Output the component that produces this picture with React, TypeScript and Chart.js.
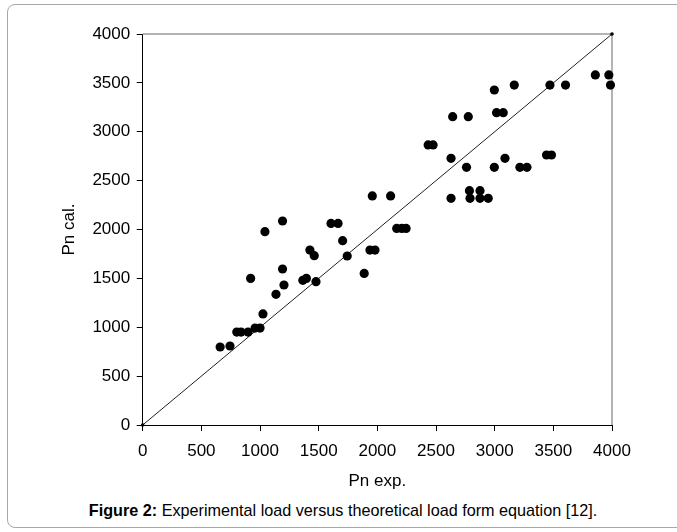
import React, { useEffect, useRef } from "react";
import { Chart, registerables } from "chart.js";

Chart.register(...registerables);

const pnExp: number[] = [
  660, 744, 802, 838, 898, 958, 1000, 1025, 920, 1042,
  1192, 1192, 1204, 1136, 1365, 1395, 1425, 1462, 1477, 1605,
  1665, 1704, 1743, 1888, 1937, 1980, 1957, 2113, 2165, 2208,
  2245, 2433, 2475, 2642, 2775, 2628, 2760, 2628, 2785, 2790,
  2875, 2875, 2945, 2997, 3167, 3016, 3073, 2997, 3088, 3215,
  3275, 3442, 3484, 3471, 3604, 3858, 3973, 3987,
];
const pnCal: number[] = [
  798, 808, 951, 951, 951, 992, 992, 1136, 1500, 1978,
  2087, 1596, 1432, 1337, 1480, 1500, 1790, 1732, 1466, 2062,
  2062, 1886, 1729, 1551, 1790, 1790, 2343, 2343, 2011, 2011,
  2011, 2865, 2865, 3154, 3154, 2728, 2636, 2319, 2397, 2319,
  2397, 2319, 2319, 3427, 3478, 3195, 3195, 2636, 2728, 2636,
  2636, 2762, 2762, 3478, 3478, 3581, 3581, 3478,
];
const lineX: number[] = [0, 4000];
const lineY: number[] = [0, 4000];
const axisMin = 0;
const axisMax = 4000;
const axisStep = 500;
const xTitle = "Pn exp.";
const yTitle = "Pn cal.";

const FONT = "'Liberation Sans', Arial, sans-serif";

const plotBorder = {
  id: "plotBorder",
  beforeDatasetsDraw(chart: any) {
    const { ctx, chartArea } = chart;
    ctx.save();
    ctx.strokeStyle = "#9a9a9a";
    ctx.lineWidth = 1.5;
    ctx.beginPath();
    ctx.moveTo(chartArea.left, chartArea.top);
    ctx.lineTo(chartArea.right, chartArea.top);
    ctx.lineTo(chartArea.right, chartArea.bottom);
    ctx.stroke();
    ctx.restore();
  },
};

const plainTick = (v: any) => String(v);

export default function App() {
  const ref = useRef<HTMLCanvasElement | null>(null);

  useEffect(() => {
    if (!ref.current) return;
    const points = pnExp.map((x, i) => ({ x, y: pnCal[i] }));
    const line = lineX.map((x, i) => ({ x, y: lineY[i] }));
    const chart = new Chart(ref.current, {
      type: "scatter",
      data: {
        datasets: [
          {
            type: "line",
            data: line,
            borderColor: "#222",
            borderWidth: 1,
            pointRadius: 1.8,
            pointBackgroundColor: "#000",
            pointBorderWidth: 0,
            clip: false,
            order: 2,
          } as any,
          {
            data: points,
            backgroundColor: "#000",
            borderColor: "#000",
            pointRadius: 4.6,
            pointBorderWidth: 0,
            clip: false,
            order: 1,
          } as any,
        ],
      },
      plugins: [plotBorder],
      options: {
        animation: false,
        responsive: false,
        maintainAspectRatio: false,
        layout: { padding: { left: 58.8, top: 34, right: 65, bottom: 0 } },
        plugins: { legend: { display: false }, tooltip: { enabled: false } },
        scales: {
          x: {
            type: "linear",
            min: axisMin,
            max: axisMax,
            afterFit: (s: any) => {
              s.height = 70;
            },
            ticks: {
              stepSize: axisStep,
              color: "#000",
              font: { family: FONT, size: 17 },
              padding: 10,
              maxRotation: 0,
              callback: plainTick,
            },
            grid: {
              display: true,
              drawOnChartArea: false,
              drawTicks: true,
              tickLength: 6,
              color: "#000",
            },
            border: { display: true, color: "#000", width: 1 },
            title: {
              display: true,
              text: xTitle,
              color: "#000",
              font: { family: FONT, size: 17 },
              padding: { top: 0, bottom: 3.8 },
            },
          },
          y: {
            type: "linear",
            min: axisMin,
            max: axisMax,
            afterFit: (s: any) => {
              s.width = 83.9;
            },
            ticks: {
              stepSize: axisStep,
              color: "#000",
              font: { family: FONT, size: 17 },
              padding: 6.5,
              callback: plainTick,
            },
            grid: {
              display: true,
              drawOnChartArea: false,
              drawTicks: true,
              tickLength: 6,
              color: "#000",
            },
            border: { display: true, color: "#000", width: 1 },
            title: {
              display: true,
              text: yTitle,
              color: "#000",
              font: { family: FONT, size: 17 },
              padding: { top: 0, bottom: 0 },
            },
          },
        },
      },
    });
    return () => chart.destroy();
  }, []);

  return (
    <div
      style={{
        position: "absolute",
        left: 0,
        top: 0,
        width: 677,
        height: 532,
        background: "#fff",
        overflow: "hidden",
      }}
    >
      <div
        style={{
          position: "absolute",
          left: 7,
          top: 4,
          width: 690,
          height: 524,
          border: "1px solid #a8a8a8",
          borderRadius: 8,
          boxSizing: "border-box",
        }}
      />
      <canvas
        ref={ref}
        width={677}
        height={495}
        style={{ position: "absolute", left: 0, top: 0, width: 677, height: 495 }}
      />
      <div
        style={{
          position: "absolute",
          left: 0,
          top: 501,
          width: 686,
          textAlign: "center",
          fontFamily: FONT,
          fontSize: 16.2,
          color: "#000",
          whiteSpace: "nowrap",
        }}
      >
        <b>Figure 2:</b> Experimental load versus theoretical load form equation [12].
      </div>
    </div>
  );
}
